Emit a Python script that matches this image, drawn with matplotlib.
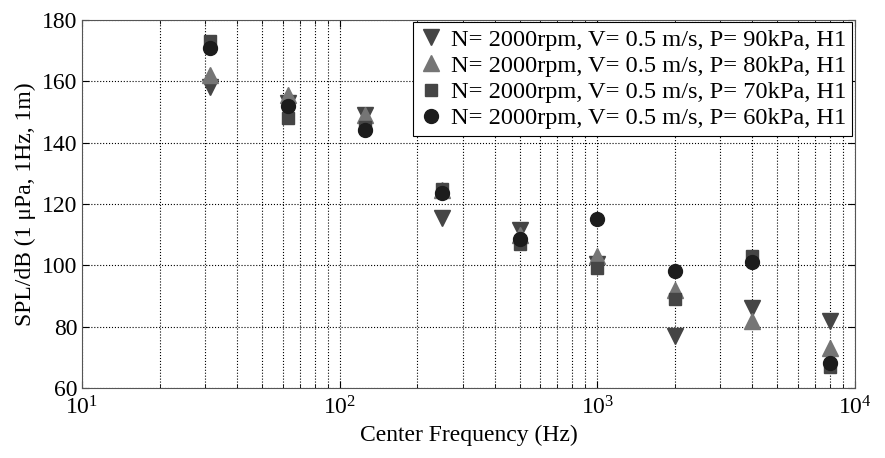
import numpy as np
import matplotlib
matplotlib.use('Agg')
import matplotlib.pyplot as plt

plt.rcParams['font.family'] = ['Liberation Serif', 'DejaVu Serif']
plt.rcParams['mathtext.fontset'] = 'stix'

# Octave band centre frequencies (Hz)
freq = [31.5, 63, 125, 250, 500, 1000, 2000, 4000, 8000]

# SPL values
spl_90 = [158, 153, 149, 115.5, 111.5, 100.5, 77, 86, 82]
spl_80 = [162, 155.5, 149, 124.5, 110, 103, 92, 82, 73]
spl_70 = [173, 148, 145, 125, 107, 99, 89, 103, 67]
spl_60 = [171, 152, 144, 123.5, 108.5, 115, 98, 101, 68]

labels = ['N= 2000rpm, V= 0.5 m/s, P= 90kPa, H1',
          'N= 2000rpm, V= 0.5 m/s, P= 80kPa, H1',
          'N= 2000rpm, V= 0.5 m/s, P= 70kPa, H1',
          'N= 2000rpm, V= 0.5 m/s, P= 60kPa, H1']

fig = plt.figure(figsize=(8.85, 4.58), dpi=100)
ax = fig.add_axes([0.0927, 0.1528, 0.8733, 0.8035])

ax.plot(freq, spl_90, 'v', color='#454545', ms=11, mec='#454545', label=labels[0])
ax.plot(freq, spl_80, '^', color='#757575', ms=11, mec='#757575', label=labels[1])
ax.plot(freq, spl_70, 's', color='#454545', ms=9, mec='#454545', label=labels[2])
ax.plot(freq, spl_60, 'o', color='#1c1c1c', ms=10, mec='#1c1c1c', label=labels[3])

ax.set_xscale('log')
ax.set_xlim(10, 10000)
ax.set_ylim(60, 180)
ax.set_yticks(np.arange(60, 181, 20))

ax.grid(True, which='major', axis='both', linestyle=':', color='black', linewidth=0.8)
ax.grid(True, which='minor', axis='x', linestyle=':', color='black', linewidth=0.8)
ax.tick_params(which='both', direction='in', labelsize=17, top=True, right=True)
ax.tick_params(which='major', length=5)
ax.tick_params(which='minor', length=3)
ax.tick_params(axis='x', which='major', pad=6)
for s in ax.spines.values():
    s.set_color('#555555')

ax.set_xlabel('Center Frequency (Hz)', fontsize=17)
ax.set_ylabel('SPL/dB (1 μPa, 1Hz, 1m)', fontsize=17)

leg = ax.legend(loc='upper right', fontsize=17.6, handletextpad=0.3, handlelength=1.0,
                borderaxespad=0.1, borderpad=0.25, labelspacing=0.17, fancybox=False,
                framealpha=1)
leg.get_frame().set_edgecolor('black')
leg.get_frame().set_linewidth(0.8)

fig.savefig('out.png', dpi=100)
